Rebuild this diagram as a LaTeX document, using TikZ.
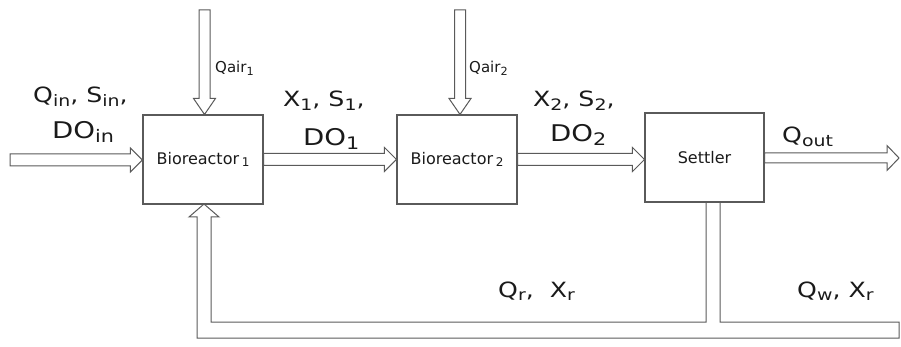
\documentclass[tikz,border=0pt]{standalone}
\usepackage{fontspec}
\setmainfont{DejaVu Sans}
\newfontfamily\wide{DejaVu Sans}[FakeStretch=1.2]
\usetikzlibrary{calc}
\newcommand\lo[1]{\raisebox{-0.15em}{\scalebox{0.75}{#1}}}
\newcommand\harr[4]{\draw[pipe] ($(#1)+(0,-#3)$) -- ($(#2)+(-12,-#3)$) -- ($(#2)+(-12,-#4)$) -- (#2) -- ($(#2)+(-12,#4)$) -- ($(#2)+(-12,#3)$) -- ($(#1)+(0,#3)$) -- cycle;}
\newcommand\varr[5]{\draw[pipe] ($(#1)+(-#3,0)$) -- ($(#2)+(-#3,-#5)$) -- ($(#2)+(-#4,-#5)$) -- (#2) -- ($(#2)+(#4,-#5)$) -- ($(#2)+(#3,-#5)$) -- ($(#1)+(#3,0)$) -- cycle;}
\definecolor{ln}{HTML}{5A5A5A}
\definecolor{tx}{HTML}{1A1A1A}
\tikzset{
  box/.style={draw=ln, line width=1.1pt, minimum width=120pt, minimum height=89pt, inner sep=0pt, text=tx, font=\fontsize{16}{18}\selectfont},
  pipe/.style={draw=ln, line width=1pt, fill=white, line join=miter},
  big/.style={anchor=base west, inner sep=0pt, text=tx, font=\wide\fontsize{21}{24}\selectfont},
  bigb/.style={anchor=base west, inner sep=0pt, text=tx, font=\wide\fontsize{23}{26}\selectfont},
  mid/.style={anchor=base west, inner sep=0pt, text=tx, font=\wide\fontsize{21}{24}\selectfont},
  small/.style={anchor=base west, inner sep=0pt, text=tx, font=\fontsize{15}{17}\selectfont},
}
\begin{document}
\begin{tikzpicture}[x=1pt,y=-1pt]
\useasboundingbox (0,0) rectangle (901,347);
\node[box] (b1) at (203,159.5) {Bioreactor\,\lo{1}};
\node[box] (b2) at (457,159.5) {Bioreactor\,\lo{2}};
\node[box, minimum width=119pt] (s) at (704.5,157.5) {Settler};
% feed
\coordinate (in) at (10,160);
\harr{in}{b1.west |- in}{6}{12}
\harr{b1.east}{b2.west}{6}{12}
\harr{b2.east}{b2.east -| s.west}{6}{12}
\coordinate (out) at (899,158);
\harr{s.east |- out}{out}{5}{12.5}
% air
\coordinate (a1) at (204.5,10);
\varr{a1}{a1 |- b1.north}{5.5}{11}{16}
\coordinate (a2) at (460,10);
\varr{a2}{a2 |- b2.north}{5.5}{11}{16}
% recycle
\coordinate (rt) at (204,204);
\draw[pipe, fill=none] (720,0 |- s.south) -- (720,322) -- (899,322) -- (899,338) -- (197,338) -- (197,217) -- (189,217) -- (rt) -- (219,217) -- (211,217) -- (211,322) -- (706,322) -- (706,0 |- s.south);
% labels
\node[small] (qa1) at (215,73) {Qair\lo{1}};
\node[small] (qa2) at (469,73) {Qair\lo{2}};
\node[big] (l1) at (33,103) {Q\lo{in}, S\lo{in},};
\node[bigb] (l2) at (52,139) {DO\lo{in}};
\node[big] (l3) at (283,107) {X\lo{1}, S\lo{1},};
\node[bigb] (l4) at (303,146) {DO\lo{1}};
\node[big] (l5) at (533,107) {X\lo{2}, S\lo{2},};
\node[bigb] (l6) at (550,142) {DO\lo{2}};
\node[mid] (l7) at (782,143) {Q\lo{out}};
\node[mid] (l8) at (498,297) {Q\lo{r},\ \ X\lo{r}};
\node[mid] (l9) at (797,297) {Q\lo{w}, X\lo{r}};
\end{tikzpicture}
\end{document}
